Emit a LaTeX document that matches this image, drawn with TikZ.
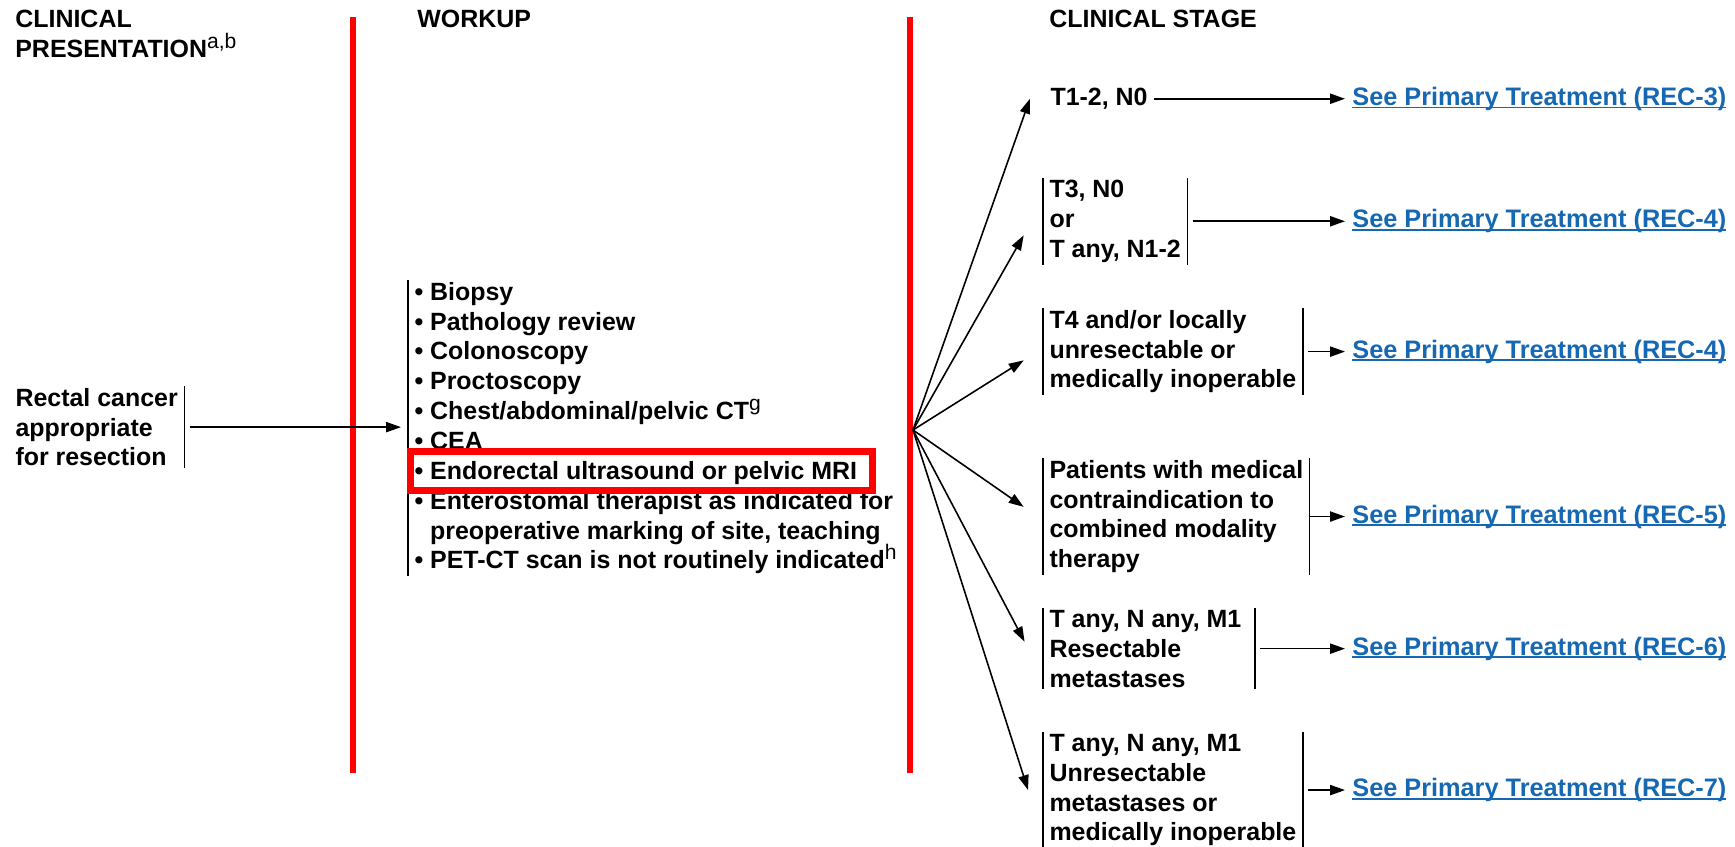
\documentclass[tikz,border=0pt]{standalone}
\usepackage{fontspec}
\setmainfont{Liberation Sans}
\usepackage{tikz}
\usetikzlibrary{arrows.meta}
\definecolor{linkblue}{RGB}{22,104,178}
\newcommand{\reclink}[1]{\setbox0\hbox{See Primary Treatment (REC-#1)}\rlap{\rule[-1.8pt]{\wd0}{1.1pt}}\box0}
\begin{document}
\begin{tikzpicture}[x=0.02cm,y=-0.02cm,
		txt/.style={font=\fontsize{14.2}{17}\selectfont\bfseries,align=left,anchor=north west,inner xsep=3.5pt,inner ysep=1pt},
		head/.style={txt,inner sep=0pt},
		link/.style={txt,anchor=west,inner xsep=4pt,text=linkblue,font=\fontsize{14.4}{17}\selectfont\bfseries},
		bar/.style={line width=0.8pt},
		divider/.style={line width=3.7pt,red},
		hilite/.style={line width=4pt,red},
		arr/.style={-{Triangle[length=8.5pt,width=5.8pt]},line width=0.9pt}]
		\useasboundingbox (0,0) rectangle (1735,847);
		\node[head] (hpres) at (15,10) {CLINICAL\\PRESENTATION\textsuperscript{\mdseries\large a,b}};
		\node[head] (hwork) at (417,10) {WORKUP};
		\node[head] (hstage) at (1049,10) {CLINICAL STAGE};
		\draw[divider] (353,17) -- (353,773);
		\draw[divider] (910,17) -- (910,773);

		\node[txt] (rect) at (9,386) {Rectal cancer\\appropriate\\for resection};
		\draw[bar] (rect.north east) -- (rect.south east);
		\node[txt] (work) at (408,280) {• Biopsy\\• Pathology review\\• Colonoscopy\\• Proctoscopy\\• Chest/abdominal/pelvic CT\textsuperscript{\mdseries\large g}\\• CEA\\• Endorectal ultrasound or pelvic MRI\\• Enterostomal therapist as indicated for\\\hphantom{•\ }preoperative marking of site, teaching\\• PET-CT scan is not routinely indicated\textsuperscript{\mdseries\large h}};
		\draw[bar] (work.north west) -- (work.south west);
		\draw[hilite] (410.5,451.5) rectangle (872.5,490.5);
		\draw[arr,shorten <=3pt,shorten >=4pt] (rect.east) -- (rect.east -| work.west);

		\node[txt] (t12) at (1044,86) {T1-2, N0};
		\node[txt] (t3) at (1043,178) {T3, N0\\or\\T any, N1-2};
		\node[txt] (t4) at (1043,308) {T4 and/or locally\\unresectable or\\medically inoperable};
		\node[txt] (pat) at (1043,458) {Patients with medical\\contraindication to\\combined modality\\therapy};
		\node[txt] (res) at (1043,608) {T any, N any, M1\\Resectable\\metastases};
		\node[txt] (unres) at (1043,732) {T any, N any, M1\\Unresectable\\metastases or\\medically inoperable};
		\draw[bar] (t3.north west) -- (t3.south west) (t3.north east) -- (t3.south east);
		\draw[bar] (t4.north west) -- (t4.south west) (t4.north east) -- (t4.south east);
		\draw[bar] (pat.north west) -- (pat.south west) (pat.north east) -- (pat.south east);
		\draw[bar] (res.north west) -- (res.south west) ([xshift=4pt]res.north east) -- ([xshift=4pt]res.south east);
		\draw[bar] (unres.north west) -- (unres.south west) (unres.north east) -- (unres.south east);

		\coordinate (fan) at (913,430);
		\draw[arr] (fan) -- ([xshift=-8pt]t12.west);
		\draw[arr] (fan) -- ([shift={(-11pt,-8pt)}]t3.west);
		\draw[arr] (fan) -- ([shift={(-11pt,-5pt)}]t4.west);
		\draw[arr] (fan) -- ([shift={(-11pt,5.5pt)}]pat.west);
		\draw[arr] (fan) -- ([shift={(-10.5pt,4pt)}]res.west);
		\draw[arr] (fan) -- ([xshift=-8.5pt]unres.west);

		\node[link] (l3) at (1345,0 |- t12.east) {\reclink{3}};
		\node[link] (l4a) at (1345,0 |- t3.east) {\reclink{4}};
		\node[link] (l4b) at (1345,0 |- t4.east) {\reclink{4}};
		\node[link] (l5) at (1345,0 |- pat.east) {\reclink{5}};
		\node[link] (l6) at (1345,0 |- res.east) {\reclink{6}};
		\node[link] (l7) at (1345,0 |- unres.east) {\reclink{7}};
		\draw[arr] (t12.east) -- (l3.west);
		\draw[arr,shorten <=3pt] (t3.east) -- (l4a.west);
		\draw[arr,shorten <=3pt] (t4.east) -- (l4b.west);
		\draw[arr] (pat.east) -- (l5.west);
		\draw[arr,shorten <=7pt] (res.east) -- (l6.west);
		\draw[arr,shorten <=3pt] (unres.east) -- (l7.west);
\end{tikzpicture}
\end{document}
